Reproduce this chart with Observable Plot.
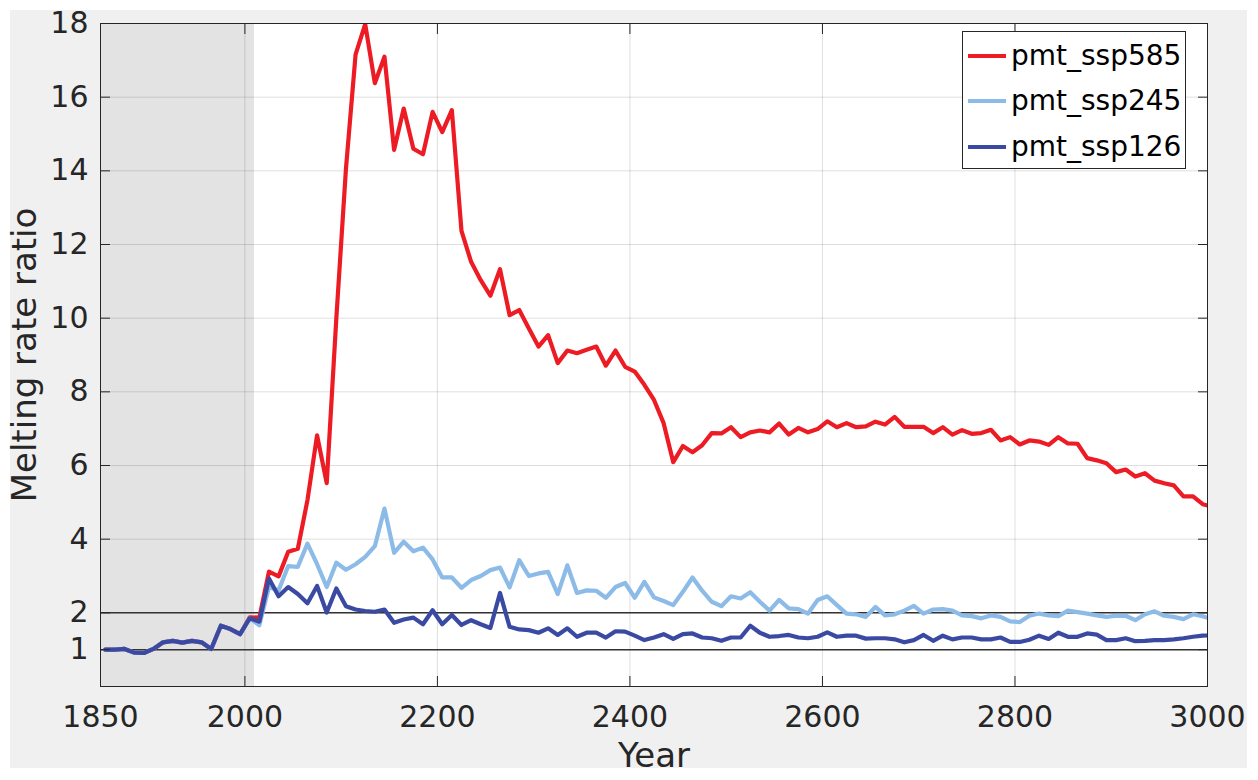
<!DOCTYPE html>
<html>
<head>
<meta charset="utf-8">
<script src="https://cdn.jsdelivr.net/npm/d3@7"></script>
<script src="https://cdn.jsdelivr.net/npm/@observablehq/plot@0.6"></script>
<style>
  html, body { margin: 0; padding: 0; background: #ffffff; overflow: hidden; }
  #wrap { position: relative; width: 1258px; height: 780px; font-family: "DejaVu Sans", sans-serif; }
  #figbg { position: absolute; left: 10px; top: 10px; width: 1237px; height: 758px; background: #f0f0f0; }
  #chart { position: absolute; left: 0; top: 0; }
  #legend { position: absolute; left: 962px; top: 31px; width: 224px; height: 138px; box-sizing: border-box;
            border: 1px solid #262626; background: #ffffff; }
  .lrow { position: absolute; left: 4px; height: 34px; line-height: 34px; font-size: 28px; color: #000; white-space: nowrap; }
  .lrow svg { position: absolute; left: 0; top: 0; }
  .lrow span { position: absolute; left: 44px; top: 0; }
</style>
</head>
<body>
<div id="wrap">
  <div id="figbg"></div>
  <div id="chart"></div>
  <div id="legend"></div>
</div>
<script>
// ---------------- data ----------------
const years = [
  1855, 1865, 1875, 1885, 1895, 1905, 1915, 1925, 1935, 1945,
  1955, 1965, 1975, 1985, 1995, 2005, 2015, 2025, 2035, 2045,
  2055, 2065, 2075, 2085, 2095, 2105, 2115, 2125, 2135, 2145,
  2155, 2165, 2175, 2185, 2195, 2205, 2215, 2225, 2235, 2245,
  2255, 2265, 2275, 2285, 2295, 2305, 2315, 2325, 2335, 2345,
  2355, 2365, 2375, 2385, 2395, 2405, 2415, 2425, 2435, 2445,
  2455, 2465, 2475, 2485, 2495, 2505, 2515, 2525, 2535, 2545,
  2555, 2565, 2575, 2585, 2595, 2605, 2615, 2625, 2635, 2645,
  2655, 2665, 2675, 2685, 2695, 2705, 2715, 2725, 2735, 2745,
  2755, 2765, 2775, 2785, 2795, 2805, 2815, 2825, 2835, 2845,
  2855, 2865, 2875, 2885, 2895, 2905, 2915, 2925, 2935, 2945,
  2955, 2965, 2975, 2985, 2995, 3005
];

const pmt_ssp585 = [
  1.00, 1.00, 1.02, 0.92, 0.91, 1.02, 1.20, 1.24, 1.19, 1.24,
  1.20, 1.02, 1.65, 1.56, 1.42, 1.88, 1.87, 3.12, 2.99, 3.66,
  3.74, 5.06, 6.82, 5.52, 10.0, 14.06, 17.16, 17.98, 16.38, 17.10,
  14.57, 15.69, 14.60, 14.45, 15.60, 15.05, 15.65, 12.37, 11.53, 11.03,
  10.61, 11.33, 10.08, 10.22, 9.72, 9.23, 9.54, 8.78, 9.12, 9.05,
  9.14, 9.23, 8.71, 9.12, 8.68, 8.55, 8.19, 7.78, 7.15, 6.09,
  6.53, 6.36, 6.55, 6.88, 6.87, 7.04, 6.77, 6.90, 6.95, 6.90,
  7.14, 6.84, 7.02, 6.90, 6.99, 7.20, 7.04, 7.15, 7.04, 7.06,
  7.19, 7.11, 7.32, 7.05, 7.05, 7.05, 6.88, 7.04, 6.84, 6.96,
  6.86, 6.88, 6.97, 6.68, 6.77, 6.57, 6.68, 6.65, 6.56, 6.77,
  6.60, 6.59, 6.20, 6.14, 6.06, 5.82, 5.89, 5.70, 5.79, 5.59,
  5.52, 5.46, 5.16, 5.16, 4.95, 4.88
];

const pmt_ssp245 = [
  1.00, 1.00, 1.02, 0.92, 0.91, 1.02, 1.20, 1.24, 1.19, 1.24,
  1.20, 1.02, 1.65, 1.56, 1.42, 1.85, 1.66, 2.70, 2.61, 3.27,
  3.25, 3.88, 3.32, 2.70, 3.36, 3.17, 3.32, 3.52, 3.81, 4.83,
  3.63, 3.93, 3.67, 3.77, 3.45, 2.96, 2.96, 2.68, 2.89, 3.00,
  3.16, 3.23, 2.69, 3.43, 3.00, 3.07, 3.11, 2.51, 3.29, 2.54,
  2.61, 2.60, 2.41, 2.70, 2.81, 2.41, 2.84, 2.42, 2.32, 2.21,
  2.57, 2.96, 2.60, 2.30, 2.18, 2.45, 2.39, 2.56, 2.30, 2.06,
  2.35, 2.12, 2.10, 1.98, 2.35, 2.45, 2.21, 1.98, 1.96, 1.89,
  2.16, 1.93, 1.96, 2.06, 2.19, 1.98, 2.09, 2.10, 2.06, 1.93,
  1.91, 1.85, 1.93, 1.89, 1.77, 1.75, 1.92, 1.98, 1.93, 1.91,
  2.06, 2.02, 1.98, 1.93, 1.89, 1.92, 1.92, 1.80, 1.96, 2.04,
  1.92, 1.89, 1.83, 1.96, 1.91, 1.82
];

const pmt_ssp126 = [
  1.00, 1.00, 1.02, 0.92, 0.91, 1.02, 1.20, 1.24, 1.19, 1.24,
  1.20, 1.02, 1.65, 1.56, 1.42, 1.85, 1.76, 2.93, 2.45, 2.70,
  2.51, 2.26, 2.73, 2.01, 2.66, 2.18, 2.09, 2.05, 2.03, 2.09,
  1.73, 1.82, 1.87, 1.69, 2.07, 1.69, 1.94, 1.67, 1.80, 1.69,
  1.59, 2.54, 1.62, 1.55, 1.53, 1.46, 1.58, 1.40, 1.58, 1.35,
  1.46, 1.46, 1.33, 1.50, 1.49, 1.38, 1.26, 1.33, 1.42, 1.29,
  1.42, 1.44, 1.33, 1.31, 1.24, 1.33, 1.33, 1.65, 1.46, 1.35,
  1.37, 1.40, 1.33, 1.31, 1.35, 1.47, 1.35, 1.38, 1.38, 1.30,
  1.31, 1.31, 1.28, 1.20, 1.26, 1.40, 1.24, 1.38, 1.28, 1.33,
  1.33, 1.28, 1.28, 1.33, 1.21, 1.21, 1.27, 1.38, 1.29, 1.46,
  1.35, 1.35, 1.44, 1.41, 1.26, 1.26, 1.31, 1.23, 1.24, 1.26,
  1.26, 1.28, 1.31, 1.35, 1.38, 1.39
];

const seriesNames = ["pmt_ssp585", "pmt_ssp245", "pmt_ssp126"];
const seriesColors = ["#ed1c24", "#8cbbe8", "#3a4aa3"];
const seriesValues = [pmt_ssp585, pmt_ssp245, pmt_ssp126];

const xTicks = [1850, 2000, 2200, 2400, 2600, 2800, 3000];
const yTicks = [1, 2, 4, 6, 8, 10, 12, 14, 16, 18];
const refLines = [1, 2];
const shadedPeriod = [[1850, 2010]];
const xDomain = [1850, 3000];
const yDomain = [0, 18];

// ---------------- chart ----------------
const ink = "#262626";
const lineMarks = seriesNames.map((name, k) =>
  Plot.line(years.map((yr, i) => ({year: yr, value: seriesValues[k][i]})), {
    x: "year", y: "value", stroke: seriesColors[k], strokeWidth: 4.2,
    strokeLinejoin: "round", clip: true
  })
);

const chart = Plot.plot({
  width: 1258,
  height: 780,
  marginLeft: 100,
  marginRight: 51,
  marginTop: 23,
  marginBottom: 94,
  style: {background: "transparent", fontFamily: "'DejaVu Sans', sans-serif", fontSize: "30px", color: ink, overflow: "visible"},
  x: {domain: xDomain},
  y: {domain: yDomain},
  marks: [
    Plot.frame({fill: "white", stroke: null}),
    Plot.rect(shadedPeriod, {x1: d => d[0], x2: d => d[1], fill: "#e3e3e3"}),
    Plot.gridX(xTicks, {stroke: "#000", strokeOpacity: 0.13, strokeWidth: 1}),
    Plot.gridY(yTicks, {stroke: "#000", strokeOpacity: 0.13, strokeWidth: 1}),
    Plot.ruleY(refLines, {stroke: "#333", strokeWidth: 1.5}),
    ...lineMarks,
    Plot.frame({stroke: ink, strokeWidth: 1}),
    // inward tick marks on all four sides
    Plot.axisX(xTicks, {anchor: "bottom", tickSize: 10, dy: -10, fill: "none", stroke: ink, label: null}),
    Plot.axisX(xTicks, {anchor: "top", tickSize: 10, dy: 10, fill: "none", stroke: ink, label: null}),
    Plot.axisY(yTicks, {anchor: "left", tickSize: 10, dx: 10, fill: "none", stroke: ink, label: null}),
    Plot.axisY(yTicks, {anchor: "right", tickSize: 10, dx: -10, fill: "none", stroke: ink, label: null}),
    // tick labels
    Plot.axisX(xTicks, {anchor: "bottom", tickSize: 0, tickPadding: 19, tickFormat: "d", fill: ink, fontSize: 30, label: null}),
    Plot.axisY(yTicks, {anchor: "left", tickSize: 0, tickPadding: 12, tickFormat: "d", fill: ink, fontSize: 30, label: null}),
    // axis titles
    Plot.text(["Year"], {text: d => d, frameAnchor: "bottom", textAnchor: "middle", lineAnchor: "middle", dy: 70, fontSize: 34, fill: ink}),
    Plot.text(["Melting rate ratio"], {text: d => d, frameAnchor: "left", textAnchor: "middle", lineAnchor: "middle", dx: -75, rotate: -90, fontSize: 34, fill: ink})
  ]
});
document.getElementById("chart").appendChild(chart);

// ---------------- legend ----------------
const legend = document.getElementById("legend");
const rowCenters = [24, 69, 115];
seriesNames.forEach((name, k) => {
  const row = document.createElement("div");
  row.className = "lrow";
  row.style.top = (rowCenters[k] - 17) + "px";
  row.innerHTML = `<svg width="40" height="34"><line x1="1" x2="39" y1="17" y2="17" stroke="${seriesColors[k]}" stroke-width="4.2"/></svg><span>${name}</span>`;
  legend.appendChild(row);
});
</script>
</body>
</html>
